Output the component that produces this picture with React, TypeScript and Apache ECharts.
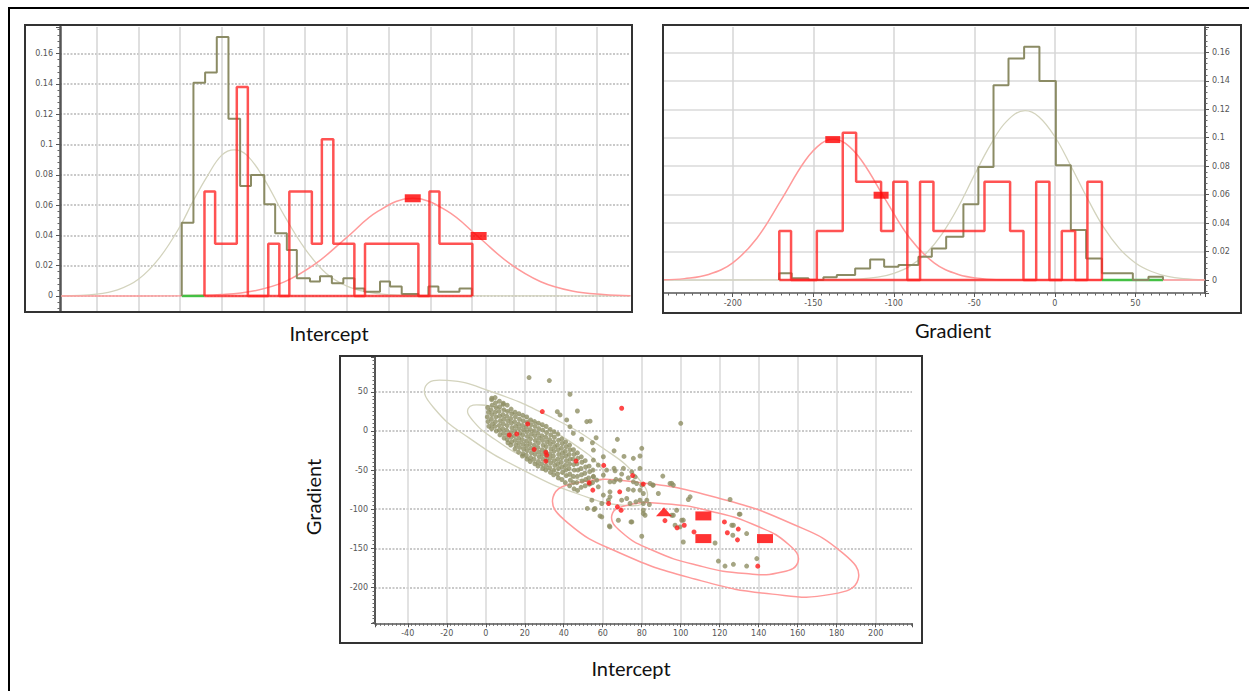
import React, { useEffect, useRef } from "react";
import * as echarts from "echarts";

// ---------- Intercept histogram panel ----------
const redInterceptEdges = [11.7, 16.8, 27.2, 32.5, 42.3, 47.6, 52.4, 63.2, 68.0, 73.5, 83.6, 88.7, 114.3, 119.6, 124.4, 140.2];
const redInterceptValues = [0.069, 0.0345, 0.138, 0, 0.0345, 0, 0.069, 0.0345, 0.1035, 0.0345, 0, 0.0345, 0, 0.069, 0.0345, 0];

const oliveInterceptEdges = [0.8, 6.4, 12.0, 17.6, 23.2, 28.8, 34.0, 40.4, 45.6, 51.2, 56.0, 62.3, 67.1, 72.8, 78.3, 83.6, 88.4, 95.9, 100.7, 106.3, 114.3, 119.1, 123.9, 134.0, 139.9];
const oliveInterceptValues = [0.0484, 0.1408, 0.1476, 0.171, 0.117, 0.0726, 0.0799, 0.0605, 0.0414, 0.0304, 0.0117, 0.0095, 0.013, 0.0084, 0.0117, 0.005, 0.0028, 0.0095, 0.0062, 0.0013, 0, 0.0062, 0.0028, 0.005, 0];

const oliveInterceptCurveX = [-57, -40, -30, -20, -10, 0, 6, 13, 20, 26, 32, 40, 50, 60, 70, 80, 90, 100, 115, 216];
const oliveInterceptCurveY = [0.0001, 0.0012, 0.004, 0.011, 0.025, 0.046, 0.062, 0.079, 0.093, 0.0965, 0.093, 0.078, 0.053, 0.031, 0.015, 0.0065, 0.0025, 0.0008, 0.0001, 0];

const redInterceptCurveX = [-57, 0, 20, 35, 50, 65, 80, 95, 111.6, 128, 143, 158, 173, 188, 203, 216];
const redInterceptCurveY = [0, 0.0001, 0.0009, 0.0032, 0.0093, 0.0213, 0.0387, 0.056, 0.0645, 0.0562, 0.0391, 0.0215, 0.0094, 0.0033, 0.0009, 0.0002];

const greenInterceptSpan = [0.8, 11.7];
const interceptMeanMarkers = [[111.6, 0.0645], [143.2, 0.0396]];

// ---------- Gradient histogram panel ----------
const redGradientEdges = [-171.1, -163.8, -147.8, -131.7, -123.4, -107.9, -100.3, -91.6, -83.7, -75.4, -43.7, -27.8, -19.5, -11.6, -3.4, 4.3, 12.6, 20.2, 29.2];
const redGradientValues = [0.0345, 0, 0.0345, 0.1035, 0.069, 0.0345, 0.069, 0, 0.069, 0.0345, 0.069, 0.0345, 0, 0.069, 0, 0.0345, 0, 0.069, 0];

const oliveGradientEdges = [-171.1, -163.4, -153.0, -143.7, -135.4, -124.0, -114.7, -106.0, -97.1, -84.7, -76.4, -67.5, -56.8, -47.5, -38.1, -28.8, -19.1, -9.6, 0.6, 9.9, 19.4, 29.2, 48.4, 58.1, 67.1];
const oliveGradientValues = [0.0047, 0.0012, 0, 0.0019, 0.0035, 0.0082, 0.0145, 0.0093, 0.0105, 0.0164, 0.0222, 0.0304, 0.0533, 0.0795, 0.1368, 0.1556, 0.164, 0.1399, 0.0807, 0.0351, 0.0152, 0.0047, 0, 0.0023, 0];

const oliveGradientCurveX = [-243, -130, -110, -100, -90, -80, -70, -60, -50, -40, -30, -18.5, -10, 0, 10, 20, 30, 40, 50, 60, 70, 80, 93];
const oliveGradientCurveY = [0, 0.0003, 0.002, 0.0047, 0.0098, 0.0187, 0.0325, 0.0513, 0.0737, 0.095, 0.1115, 0.119, 0.1148, 0.1007, 0.08, 0.0578, 0.0375, 0.0223, 0.012, 0.006, 0.0026, 0.001, 0.0002];

const redGradientCurveX = [-243, -230, -215, -200, -185, -170, -155, -145, -137.5, -130, -120, -105, -90, -75, -60, -45, -30, -10, 93];
const redGradientCurveY = [0.0002, 0.001, 0.0039, 0.0121, 0.0294, 0.0562, 0.084, 0.096, 0.099, 0.096, 0.084, 0.0562, 0.0294, 0.0121, 0.0039, 0.001, 0.0002, 0, 0];

const greenGradientSpan = [29.2, 67.1];
const gradientMeanMarkers = [[-137.9, 0.0987], [-107.9, 0.0596]];

// ---------- Scatter panel (Intercept, Gradient) ----------
const olivePointsCore = [
  [1, 30], [1.4, 24], [0.8, 18], [1.2, 12], [1.6, 6],
  [3, 40], [3.3, 33], [2.7, 27], [3.1, 21], [2.9, 15], [3.4, 9], [3, 3],
  [5, 36], [5.3, 30], [4.8, 24], [5.2, 18], [5, 12], [4.7, 6], [5.4, 0],
  [7, 38], [7.2, 31], [6.8, 25], [7.1, 19], [7.4, 13], [6.9, 7], [7, 1], [7.3, -5],
  [9, 34], [9.3, 27], [8.8, 21], [9.2, 15], [9, 9], [8.7, 3], [9.1, -3], [9.4, -9],
  [11, 33], [11.2, 25], [10.8, 19], [11.3, 13], [11, 7], [10.7, 1], [11.2, -5], [11, -11], [11.4, -15],
  [13, 28], [13.3, 22], [12.8, 16], [13.1, 10], [13.4, 4], [12.9, -2], [13, -8], [13.3, -14], [12.8, -18],
  [15, 24], [15.2, 18], [14.8, 12], [15.3, 6], [15, 0], [14.7, -6], [15.1, -12], [15.4, -18], [15, -23],
  [17, 22], [17.3, 15], [16.8, 9], [17.1, 3], [17.4, -3], [16.9, -9], [17, -15], [17.3, -21], [16.8, -27],
  [19, 20], [19.2, 13], [18.8, 7], [19.3, 1], [19, -5], [18.7, -11], [19.1, -17], [19.4, -23], [19, -29], [18.8, -32],
  [21, 18], [21.3, 11], [20.8, 5], [21.1, -1], [21.4, -7], [20.9, -13], [21, -19], [21.3, -25], [20.8, -31], [21.2, -36],
  [23, 14], [23.2, 8], [22.8, 2], [23.3, -4], [23, -10], [22.7, -16], [23.1, -22], [23.4, -28], [23, -34], [22.8, -39],
  [25, 12], [25.3, 6], [24.8, 0], [25.1, -6], [25.4, -12], [24.9, -18], [25, -24], [25.3, -30], [24.8, -36], [25.2, -42],
  [27, 10], [27.2, 3], [26.8, -3], [27.3, -9], [27, -15], [26.7, -21], [27.1, -27], [27.4, -33], [27, -39], [26.8, -45],
  [29, 8], [29.3, 1], [28.8, -6], [29.1, -12], [29.4, -18], [28.9, -24], [29, -30], [29.3, -36], [28.8, -42], [29.2, -48],
  [31, 6], [31.2, -2], [30.8, -8], [31.3, -14], [31, -20], [30.7, -26], [31.1, -32], [31.4, -38], [31, -44], [30.8, -50],
  [33, 2], [33.3, -5], [32.8, -11], [33.1, -17], [33.4, -23], [32.9, -29], [33, -35], [33.3, -41], [32.8, -47], [33.2, -53],
  [35, -1], [35.2, -8], [34.8, -14], [35.3, -20], [35, -26], [34.7, -32], [35.1, -38], [35.4, -44], [35, -50], [34.8, -56],
  [37, -4], [37.3, -12], [36.8, -18], [37.1, -24], [37.4, -30], [36.9, -36], [37, -42], [37.3, -48], [36.8, -55], [37.2, -60],
  [39, -10], [39.2, -16], [38.8, -22], [39.3, -28], [39, -34], [38.7, -40], [39.1, -46], [39.4, -53], [39, -62],
  [41, -14], [41.3, -20], [40.8, -26], [41.1, -32], [41.4, -38], [40.9, -44], [41, -50], [41.3, -57], [40.8, -66],
  [43, -18], [43.2, -24], [42.8, -30], [43.3, -36], [43, -42], [42.7, -48], [43.1, -55], [43.4, -63], [43, -70],
  [45, -24], [45.3, -30], [44.8, -36], [45.1, -43], [45.4, -50], [44.9, -58], [45, -66], [45.3, -74],
  [47, -28], [47.2, -35], [46.8, -42], [47.3, -50], [47, -58], [46.7, -66], [47.1, -76],
  [49, -33], [49.3, -40], [48.8, -48], [49.1, -56], [49.4, -64], [48.9, -72],
  [51, -38], [51.2, -46], [50.8, -54], [51.3, -62], [51, -70],
  [53, -45], [53.3, -52], [52.8, -60], [53.1, -68],
  [55, -50], [55.2, -58], [54.8, -66],
];

const olivePointsSparse = [
  [22.2, 68.3], [32.6, 64.5], [43.2, 47], [47, 25.6], [51.8, 12], [53.5, 12.5], [36.7, 24.7], [38.1, 20.5],
  [41.5, 14.1], [43.2, 5.5], [3.1, 41.9], [4.8, 42.7], [9, 35.5], [56.6, -8.6], [54.7, -15], [49.2, -10.6],
  [44.9, -3], [55.2, -24.4], [60.3, -32.9], [67.5, -10.7], [65.8, -25.4], [70.9, -32.5], [75.7, -35],
  [79.1, -32], [80, -22.2], [100, 9.8], [55.2, -37.2], [57.7, -43.6], [62, -50], [66.3, -50.9], [69.7, -55.1],
  [66.8, -61.9], [73.1, -74.7], [63.7, -77.8], [60.3, -82], [57.7, -71.4], [55.2, -58.6], [56, -99.1],
  [59.5, -109.9], [63.7, -122.7], [68, -114.1], [74.9, -116.3], [69.7, -88.5], [72.3, -86.3], [75.7, -75.6],
  [77.4, -67.1], [80, -69.2], [80.8, -79.9], [79.1, -88.5], [82.6, -88.5], [80.8, -101.3], [81.7, -107.7],
  [85.9, -69.2], [88.5, -79.9], [90.8, -57.7], [94.5, -67.1], [96.2, -69.2], [97.9, -101.3], [96.2, -107.7],
  [100.5, -114.1], [99.6, -122.7], [101.3, -141.9], [104.8, -84.2], [103.9, -87.6], [125.3, -87.6],
  [130.4, -106.4], [127, -120.5], [133.8, -131.2], [117.6, -143.2], [119.3, -166.3], [122.7, -172.7],
  [127, -170.5], [133.8, -172.7], [139, -163.2], [56.9, -62.8], [62.9, -88.5], [59.5, -92.7], [54.4, -88.5],
  [53.5, -67.1], [60.3, -56.4], [63.7, -65], [74.9, -52.2], [70.6, -47.8], [79.1, -75.6], [76.6, -58.6],
  [79.1, -47.8], [84.3, -67.1], [52.1, -99], [55.5, -100.4], [58.6, -108.6], [63.4, -121.4], [63.7, -84.2],
  [74, -92.7], [65.8, -47.8], [75.7, -65], [73.1, -59.9], [65.8, -65], [68.9, -62.8], [95.4, -67],
  [97.1, -120.5], [101.3, -114], [95.4, -107.7], [80.8, -105.5], [80.8, -92.7], [77, -90.6], [83.9, -94],
  [130, -106.4], [80, -134.6], [74.5, -116.3], [126.2, -120.5], [126.7, -133.3], [85.6, -69.2],
];

const redPoints = [
  [12.1, -5.1], [15.9, -3.8], [21.5, 9.0], [29.0, 24.8], [24.8, -23.5], [30.8, -27.3], [31.3, -30.8],
  [30.8, -38.5], [46.3, -38.5], [60.5, -44], [69.7, 29.1], [53, -66.3], [54.9, -75.6], [68.7, -77.8],
  [75.3, -57], [63, -92.7], [67.5, -97], [69.4, -101.3], [80.8, -67.9], [91.9, -114.6], [98.1, -123.8],
  [101.8, -120.5], [106.8, -129.1], [122.4, -116.3], [123.9, -130.1], [129.5, -125.4], [129.1, -139.2],
  [139.5, -172.8],
];

const scatterRectMarkers = [[111.6, -108.6], [111.6, -137.6], [143.2, -137.6]];
const scatterTriangleMarkers = [[91.4, -103.4]];

const redEllipseOuter = [
  [191.0, -189.6], [177.7, -208.6], [147.0, -208.6], [107.1, -189.2], [68.8, -156.0], [42.2, -117.8],
  [34.5, -84.7], [47.7, -65.8], [78.4, -65.8], [118.3, -85.1], [156.7, -118.3], [183.3, -156.5],
];
const redEllipseInner = [
  [160.2, -166.9], [152.0, -180.4], [133.3, -182.3], [109.0, -172.0], [85.5, -152.5], [69.4, -128.8],
  [64.7, -107.4], [72.8, -94.9], [91.5, -92.9], [115.9, -102.9], [139.4, -121.8], [155.5, -145.5],
];
const oliveEllipseOuter = [
  [82.4, -87.6], [71.4, -95.2], [48.1, -81.2], [18.8, -49.6], [-8.6, -8.8], [-26.8, 30.0],
  [-30.9, 57.1], [-19.8, 64.6], [2.5, 50.6], [32.7, 18.6], [60.2, -22.0], [78.3, -60.8],
];
const oliveEllipseInner = [
  [60.5, -59.6], [53.7, -63.9], [39.5, -55.3], [21.6, -35.9], [4.8, -11.0], [-6.4, 12.7],
  [-9.0, 28.8], [-2.2, 33.2], [11.9, 24.6], [30.0, 5.1], [46.8, -19.7], [57.9, -43.5],
];

const OLIVE = "#8b8b64";
const OLIVE_DOT = "#8f8f64";
const OLIVE_CURVE = "#d3d3bd";
const RED_HIST = "rgba(255,35,35,0.78)";
const RED_CURVE = "#ff9a9a";
const GREEN = "#44c044";
const AXIS = "#555";
const TICK_FONT = "DejaVu Sans";

function stepData(edges: number[], values: number[]) {
  const out: number[][] = [[edges[0], 0]];
  edges.forEach((e, i) => out.push([e, values[i]]));
  return out;
}
function zip(xs: number[], ys: number[]) {
  return xs.map((x, i) => [x, ys[i]]);
}

function ellipseSeries(points: number[][], color: string, width: number, axis: number) {
  return {
    type: "custom",
    xAxisIndex: axis,
    yAxisIndex: axis,
    silent: true,
    clip: false,
    z: 1,
    data: [[points[0][0], points[0][1]]],
    renderItem: (_params: any, api: any) => ({
      type: "polygon",
      shape: { points: points.map((p) => api.coord(p)), smooth: 0.5 },
      style: { fill: "none", stroke: color, lineWidth: width },
    }),
  };
}

const tickLabel = { fontSize: 8, color: "#555", fontFamily: TICK_FONT };

export default function App() {
  const ref = useRef<HTMLDivElement>(null);
  useEffect(() => {
    document.body.style.margin = "0";
    const chart = echarts.init(ref.current!, undefined, { renderer: "svg" });
    const lineBase = { type: "line", symbol: "none", silent: true };
    const option: any = {
      animation: false,
      backgroundColor: "#fff",
      grid: [
        { left: 60, top: 27, width: 570, height: 284.7 },
        { left: 663, top: 27, width: 542, height: 266 },
        { left: 375, top: 357, width: 537, height: 266.3 },
      ],
      xAxis: [
        {
          gridIndex: 0, type: "value", min: -57.6, max: 215.8, splitNumber: 14,
          axisLine: { show: false }, axisTick: { show: false }, axisLabel: { show: false },
          splitLine: { show: true, showMinLine: false, showMaxLine: false, lineStyle: { color: "#d4d4d4", width: 1.5 } },
        },
        {
          gridIndex: 1, type: "value", min: -243.3, max: 93.2, splitNumber: 7,
          axisLine: { show: true, onZero: false, lineStyle: { color: AXIS, width: 1.5 } },
          axisTick: { show: true, length: 4, lineStyle: { color: AXIS } },
          minorTick: { show: true, splitNumber: 10, length: 2.5, lineStyle: { color: "#666" } },
          axisLabel: { ...tickLabel, margin: 6, showMinLabel: false, showMaxLabel: false },
          splitLine: { show: true, showMinLine: false, showMaxLine: false, lineStyle: { color: "#d6d6d6", width: 1.5 } },
        },
        {
          gridIndex: 2, type: "value", min: -56.8, max: 218.6, splitNumber: 14,
          axisLine: { show: true, onZero: false, lineStyle: { color: AXIS, width: 1.5 } },
          axisTick: { show: true, length: 4, lineStyle: { color: AXIS } },
          minorTick: { show: true, splitNumber: 10, length: 2.5, lineStyle: { color: "#666" } },
          axisLabel: { ...tickLabel, margin: 6, showMinLabel: false, showMaxLabel: false },
          splitLine: { show: true, showMinLine: false, showMaxLine: false, lineStyle: { color: "#d8d8d8", width: 1.5 } },
        },
      ],
      yAxis: [
        {
          gridIndex: 0, type: "value", min: -0.0104, max: 0.1776, splitNumber: 9,
          axisLine: { show: true, onZero: false, lineStyle: { color: AXIS, width: 2.5 } },
          axisTick: { show: true, length: 4, lineStyle: { color: AXIS } },
          minorTick: { show: true, splitNumber: 5, length: 2.5, lineStyle: { color: "#666" } },
          axisLabel: { ...tickLabel, margin: 7, showMinLabel: false, showMaxLabel: false },
          splitLine: { show: true, showMinLine: false, showMaxLine: false, lineStyle: { color: "#b8b8b8", type: [2, 1.5], width: 1.5 } },
        },
        {
          gridIndex: 1, type: "value", position: "right", min: -0.0091, max: 0.1778, splitNumber: 9,
          axisLine: { show: true, onZero: false, lineStyle: { color: AXIS, width: 2 } },
          axisTick: { show: true, length: 4, lineStyle: { color: AXIS } },
          minorTick: { show: true, splitNumber: 5, length: 2.5, lineStyle: { color: "#666" } },
          axisLabel: { ...tickLabel, margin: 7, showMinLabel: false, showMaxLabel: false },
          splitLine: { show: true, showMinLine: false, showMaxLine: false, lineStyle: { color: "#dadada", width: 1.5 } },
        },
        {
          gridIndex: 2, type: "value", min: -245.9, max: 94.6, splitNumber: 7,
          axisLine: { show: true, onZero: false, lineStyle: { color: AXIS, width: 2 } },
          axisTick: { show: true, length: 4, lineStyle: { color: AXIS } },
          minorTick: { show: true, splitNumber: 10, length: 2.5, lineStyle: { color: "#666" } },
          axisLabel: { ...tickLabel, margin: 7, showMinLabel: false, showMaxLabel: false },
          splitLine: { show: true, showMinLine: false, showMaxLine: false, lineStyle: { color: "#b8b8b8", type: [2, 1.5], width: 1.5 } },
        },
      ],
      series: [
        // Panel 1
        { ...lineBase, xAxisIndex: 0, yAxisIndex: 0, smooth: 0.4, data: zip(oliveInterceptCurveX, oliveInterceptCurveY), lineStyle: { color: OLIVE_CURVE, width: 1.3 }, z: 2 },
        { ...lineBase, xAxisIndex: 0, yAxisIndex: 0, smooth: 0.4, data: zip(redInterceptCurveX, redInterceptCurveY), lineStyle: { color: RED_CURVE, width: 1.5 }, z: 2 },
        { ...lineBase, xAxisIndex: 0, yAxisIndex: 0, data: [[greenInterceptSpan[0], 0], [greenInterceptSpan[1], 0]], lineStyle: { color: GREEN, width: 2.5 }, z: 3 },
        { ...lineBase, xAxisIndex: 0, yAxisIndex: 0, step: "end", data: stepData(oliveInterceptEdges, oliveInterceptValues), lineStyle: { color: OLIVE, width: 2 }, z: 3 },
        { ...lineBase, xAxisIndex: 0, yAxisIndex: 0, data: [[redInterceptEdges[0], 0], [redInterceptEdges[redInterceptEdges.length - 1], 0]], lineStyle: { color: RED_HIST, width: 2.5 }, z: 4 },
        { ...lineBase, xAxisIndex: 0, yAxisIndex: 0, step: "end", data: stepData(redInterceptEdges, redInterceptValues), lineStyle: { color: RED_HIST, width: 2.5 }, z: 4 },
        { type: "scatter", xAxisIndex: 0, yAxisIndex: 0, symbol: "rect", symbolSize: [16, 8], data: interceptMeanMarkers, itemStyle: { color: "#ff0000" }, z: 6, silent: true },
        // Panel 2
        { ...lineBase, xAxisIndex: 1, yAxisIndex: 1, smooth: 0.4, data: zip(oliveGradientCurveX, oliveGradientCurveY), lineStyle: { color: OLIVE_CURVE, width: 1.3 }, z: 2 },
        { ...lineBase, xAxisIndex: 1, yAxisIndex: 1, smooth: 0.4, data: zip(redGradientCurveX, redGradientCurveY), lineStyle: { color: RED_CURVE, width: 1.5 }, z: 2 },
        { ...lineBase, xAxisIndex: 1, yAxisIndex: 1, data: [[greenGradientSpan[0], 0], [greenGradientSpan[1], 0]], lineStyle: { color: GREEN, width: 2.5 }, z: 3 },
        { ...lineBase, xAxisIndex: 1, yAxisIndex: 1, step: "end", data: stepData(oliveGradientEdges, oliveGradientValues), lineStyle: { color: OLIVE, width: 2 }, z: 3 },
        { ...lineBase, xAxisIndex: 1, yAxisIndex: 1, data: [[redGradientEdges[0], 0], [redGradientEdges[redGradientEdges.length - 1], 0]], lineStyle: { color: RED_HIST, width: 2.5 }, z: 4 },
        { ...lineBase, xAxisIndex: 1, yAxisIndex: 1, step: "end", data: stepData(redGradientEdges, redGradientValues), lineStyle: { color: RED_HIST, width: 2.5 }, z: 4 },
        { type: "scatter", xAxisIndex: 1, yAxisIndex: 1, symbol: "rect", symbolSize: [15, 7], data: gradientMeanMarkers, itemStyle: { color: "#ff0000" }, z: 6, silent: true },
        // Panel 3
        ellipseSeries(oliveEllipseOuter, OLIVE_CURVE, 1.3, 2),
        ellipseSeries(oliveEllipseInner, OLIVE_CURVE, 1.3, 2),
        ellipseSeries(redEllipseOuter, RED_CURVE, 1.5, 2),
        ellipseSeries(redEllipseInner, RED_CURVE, 1.5, 2),
        { type: "scatter", xAxisIndex: 2, yAxisIndex: 2, symbolSize: 5, data: olivePointsCore, itemStyle: { color: OLIVE_DOT }, z: 3, silent: true },
        { type: "scatter", xAxisIndex: 2, yAxisIndex: 2, symbolSize: 5, data: olivePointsSparse, itemStyle: { color: OLIVE_DOT }, z: 3, silent: true },
        { type: "scatter", xAxisIndex: 2, yAxisIndex: 2, symbolSize: 5, data: redPoints, itemStyle: { color: "#ff1a1a" }, z: 4, silent: true },
        { type: "scatter", xAxisIndex: 2, yAxisIndex: 2, symbol: "rect", symbolSize: [16, 9], data: scatterRectMarkers, itemStyle: { color: "#ff0000" }, z: 6, silent: true },
        { type: "scatter", xAxisIndex: 2, yAxisIndex: 2, symbol: "triangle", symbolSize: [16, 9], data: scatterTriangleMarkers, itemStyle: { color: "#ff0000" }, z: 6, silent: true },
      ],
      graphic: [
        { type: "rect", shape: { x: 9, y: 8, width: 1250, height: 700 }, style: { fill: "none", stroke: "#000", lineWidth: 2 }, z: 100, silent: true },
        { type: "rect", shape: { x: 25, y: 25, width: 607, height: 287 }, style: { fill: "none", stroke: "#333", lineWidth: 2 }, z: 100, silent: true },
        { type: "rect", shape: { x: 663, y: 25, width: 578, height: 288 }, style: { fill: "none", stroke: "#333", lineWidth: 2 }, z: 100, silent: true },
        { type: "rect", shape: { x: 340, y: 356, width: 582, height: 287 }, style: { fill: "none", stroke: "#333", lineWidth: 2 }, z: 100, silent: true },
        { type: "text", x: 329, y: 333, style: { text: "Intercept", fontSize: 20, fontFamily: "Lato", fill: "#111", textAlign: "center", textVerticalAlign: "middle" }, z: 100, silent: true },
        { type: "text", x: 953, y: 330, style: { text: "Gradient", fontSize: 20, fontFamily: "Lato", fill: "#111", textAlign: "center", textVerticalAlign: "middle" }, z: 100, silent: true },
        { type: "text", x: 631, y: 668, style: { text: "Intercept", fontSize: 20, fontFamily: "Lato", fill: "#111", textAlign: "center", textVerticalAlign: "middle" }, z: 100, silent: true },
        { type: "text", x: 313, y: 497, rotation: Math.PI / 2, style: { text: "Gradient", fontSize: 20, fontFamily: "Lato", fill: "#111", textAlign: "center", textVerticalAlign: "middle" }, z: 100, silent: true },
      ],
    };
    chart.setOption(option);
    return () => chart.dispose();
  }, []);
  return <div ref={ref} style={{ width: 1249, height: 691 }} />;
}
